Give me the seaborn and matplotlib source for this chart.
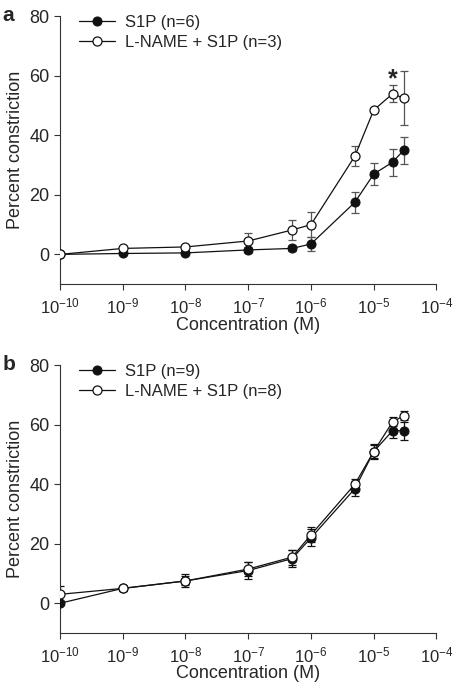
import numpy as np
import pandas as pd
import matplotlib
matplotlib.use("Agg")
import matplotlib.pyplot as plt
import seaborn as sns

# concentrations (M)
conc = [1e-10, 1e-9, 1e-8, 1e-7, 5e-7, 1e-6, 5e-6, 1e-5, 2e-5, 3e-5]

# panel a
a_s1p = [0, 0.3, 0.5, 1.5, 2.0, 3.5, 17.5, 27.0, 31.0, 35.0]
a_s1p_err = [0, 0.5, 0.6, 1.0, 1.0, 2.5, 3.5, 3.8, 4.5, 4.5]
a_lname = [0, 2.0, 2.5, 4.5, 8.2, 10.0, 33.0, 48.5, 54.0, 52.5]
a_lname_err = [0, 0.5, 0.8, 2.8, 3.5, 4.2, 3.3, 0.5, 2.8, 9.0]
a_labels = ["S1P (n=6)", "L-NAME + S1P (n=3)"]

# panel b
b_s1p = [0, 5.0, 7.5, 11.0, 15.0, 22.0, 38.5, 51.0, 58.0, 58.0]
b_s1p_err = [0.5, 0.8, 2.2, 2.8, 2.8, 2.8, 2.5, 2.5, 2.5, 3.0]
b_lname = [3.0, 5.0, 7.5, 11.5, 15.5, 23.0, 40.0, 51.0, 61.0, 63.0]
b_lname_err = [2.8, 0.8, 1.5, 2.5, 2.5, 2.5, 1.8, 2.2, 1.5, 1.5]
b_labels = ["S1P (n=9)", "L-NAME + S1P (n=8)"]

yticks = [0, 20, 40, 60, 80]
xticks = [1e-10, 1e-9, 1e-8, 1e-7, 1e-6, 1e-5, 1e-4]
xticklabels = [r"10$^{\mathregular{-10}}$", r"10$^{\mathregular{-9}}$",
               r"10$^{\mathregular{-8}}$", r"10$^{\mathregular{-7}}$",
               r"10$^{\mathregular{-6}}$", r"10$^{\mathregular{-5}}$",
               r"10$^{\mathregular{-4}}$"]

sns.set_style("ticks")
plt.rcParams["font.family"] = ["Liberation Sans", "DejaVu Sans"]
plt.rcParams["mathtext.fontset"] = "custom"
plt.rcParams["mathtext.rm"] = "Liberation Sans"
plt.rcParams["mathtext.it"] = "Liberation Sans"


def draw_panel(ax, s1p, s1p_err, lname, lname_err, labels, err_color):
    df = pd.DataFrame({"conc": conc * 2,
                       "val": s1p + lname,
                       "group": [labels[0]] * len(conc) + [labels[1]] * len(conc)})
    for vals, errs in [(s1p, s1p_err), (lname, lname_err)]:
        ax.errorbar(conc, vals, yerr=errs, fmt="none", ecolor=err_color,
                    elinewidth=0.9, capsize=3, capthick=0.9, zorder=2)
    sns.lineplot(data=df, x="conc", y="val", hue="group", style="group",
                 palette=["#111111", "#111111"], markers=["o", "o"], dashes=False,
                 linewidth=0.9, markersize=6.5, ax=ax, zorder=3, legend=False)
    lines = ax.get_lines()[-2:]
    lines[0].set_markerfacecolor("#111111")
    lines[0].set_markeredgecolor("#111111")
    lines[1].set_markerfacecolor("white")
    lines[1].set_markeredgecolor("#111111")
    lines[1].set_markeredgewidth(0.9)
    ax.legend(lines, labels, loc="upper left", bbox_to_anchor=(0.01, 1.06),
              frameon=False, fontsize=12, handlelength=2.2, handletextpad=0.6,
              labelspacing=0.3)
    ax.set_xscale("log")
    ax.set_xlim(1e-10, 1e-4)
    ax.set_ylim(-10, 80)
    ax.set_xticks(xticks)
    ax.set_xticklabels(xticklabels)
    ax.minorticks_off()
    ax.set_yticks(yticks)
    ax.tick_params(labelsize=13, length=4, width=0.8, color="#333333")
    ax.tick_params(axis="x", labelsize=12, pad=5)
    ax.set_xlabel("Concentration (M)", fontsize=13, labelpad=0)
    ax.set_ylabel("Percent constriction", fontsize=13, labelpad=4)
    sns.despine(ax=ax)
    for sp in ["left", "bottom"]:
        ax.spines[sp].set_linewidth(0.8)
        ax.spines[sp].set_color("#333333")


fig = plt.figure(figsize=(4.58, 6.83), dpi=100)
ax_a = fig.add_axes([0.131, 0.584, 0.822, 0.392])
ax_b = fig.add_axes([0.131, 0.0732, 0.822, 0.392])

draw_panel(ax_a, a_s1p, a_s1p_err, a_lname, a_lname_err, a_labels, "#555555")
draw_panel(ax_b, b_s1p, b_s1p_err, b_lname, b_lname_err, b_labels, "#111111")

ax_a.text(2e-5, 59, "*", ha="center", va="center", fontsize=18, fontweight="bold")

fig.text(0.005, 0.977, "a", fontsize=15, fontweight="bold", va="center")
fig.text(0.005, 0.466, "b", fontsize=15, fontweight="bold", va="center")

fig.savefig("out.png", dpi=100)
